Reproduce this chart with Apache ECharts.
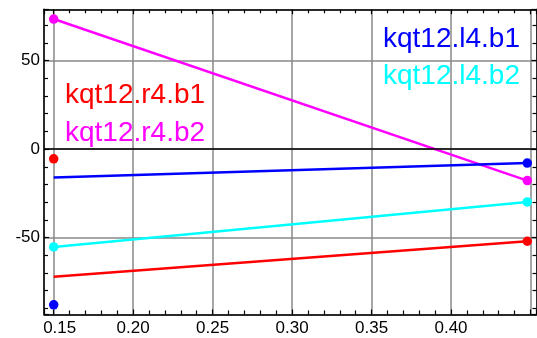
<!DOCTYPE html>
<html>
<head>
<meta charset="utf-8">
<script src="https://cdn.jsdelivr.net/npm/echarts@6/dist/echarts.min.js"></script>
<style>
html,body{margin:0;padding:0;background:#fff;}
#chart{width:537px;height:338px;}
</style>
</head>
<body>
<div id="chart"></div>
<script>
// x positions of the two measurements
var xValues = [0.15, 0.448];
// measured points
var pointsR4B1 = [-5.5, -52.1];
var pointsR4B2 = [73.5, -17.8];
var pointsL4B1 = [-88, -7.9];
var pointsL4B2 = [-55.3, -29.9];
// fitted lines
var fitR4B1 = [-72.2, -52.1];
var fitR4B2 = [73.5, -17.8];
var fitL4B1 = [-16, -7.9];
var fitL4B2 = [-55.3, -29.9];

var names = ['kqt12.r4.b1', 'kqt12.r4.b2', 'kqt12.l4.b1', 'kqt12.l4.b2'];
var colors = ['#ff0000', '#ff00ff', '#0000ff', '#00ffff'];
var points = [pointsR4B1, pointsR4B2, pointsL4B1, pointsL4B2];
var fits = [fitR4B1, fitR4B2, fitL4B1, fitL4B2];

function pairs(ys) { return xValues.map(function (x, i) { return [x, ys[i]]; }); }

var FONT = 'Liberation Sans';
var series = [];
names.forEach(function (n, k) {
  series.push({
    name: n, type: 'line', data: pairs(fits[k]), showSymbol: false,
    lineStyle: { color: colors[k], width: 2.5 }, itemStyle: { color: colors[k] },
    z: 3, silent: true,
    markLine: k === 0 ? {
      silent: true, symbol: 'none', label: { show: false },
      lineStyle: { color: '#000', width: 1.5, type: 'solid' },
      data: [{ yAxis: 0 }]
    } : undefined
  });
  series.push({
    name: n, type: 'scatter', data: pairs(points[k]), symbol: 'circle', symbolSize: 9.5,
    itemStyle: { color: colors[k], opacity: 1 }, z: 4
  });
});

var axisCommon = {
  axisLine: { show: true, onZero: false, lineStyle: { color: '#000', width: 1.5 } },
  axisTick: { show: true, inside: true, length: 5, lineStyle: { color: '#000', width: 1.2 } },
  minorTick: { show: true, splitNumber: 5, length: 4, lineStyle: { color: '#000', width: 1.2 } }
};

var xMin = 0.1439, xMax = 0.4538, yMin = -93.5, yMax = 79;

var option = {
  animation: false,
  backgroundColor: '#fff',
  grid: { left: 44, right: 0.5, top: 9.3, bottom: 23.5, containLabel: false, outerBoundsMode: 'none' },
  xAxis: [
    Object.assign({
      type: 'value', position: 'bottom', min: xMin, max: xMax, splitNumber: 6,
      axisLabel: { show: true, color: '#000', fontSize: 17, fontFamily: FONT, margin: 5,
        showMinLabel: false, showMaxLabel: false, hideOverlap: false,
        formatter: function (v) {
          if (v > 0.445) return '';
          if (v < 0.155) return '{f|' + v.toFixed(2) + '}';
          return v.toFixed(2);
        },
        rich: { f: { fontSize: 17, fontFamily: FONT, color: '#000', padding: [0, 0, 0, 12] } }
      },
      splitLine: { show: true, lineStyle: { color: '#888', width: 1.5 } }
    }, axisCommon),
    Object.assign({
      type: 'value', position: 'top', min: xMin, max: xMax, splitNumber: 6,
      axisLabel: { show: false }, splitLine: { show: false }
    }, axisCommon)
  ],
  yAxis: [
    Object.assign({
      type: 'value', position: 'left', min: yMin, max: yMax, splitNumber: 3,
      axisLabel: { show: true, color: '#000', fontSize: 17, fontFamily: FONT, margin: 4,
        showMinLabel: false, showMaxLabel: false },
      splitLine: { show: true, lineStyle: { color: '#888', width: 1.5 } }
    }, axisCommon),
    Object.assign({
      type: 'value', position: 'right', min: yMin, max: yMax, splitNumber: 3,
      axisLabel: { show: false }, splitLine: { show: false }
    }, axisCommon)
  ],
  legend: [
    {
      data: [
        { name: names[0], textStyle: { color: colors[0] } },
        { name: names[1], textStyle: { color: colors[1] } }
      ],
      orient: 'vertical', left: 60, top: 81, icon: 'none', itemWidth: 0, itemHeight: 10, itemGap: 10,
      padding: 0, selectedMode: false,
      textStyle: { fontSize: 28, fontFamily: FONT, padding: 0 }
    },
    {
      data: [
        { name: names[2], textStyle: { color: colors[2] } },
        { name: names[3], textStyle: { color: colors[3] } }
      ],
      orient: 'vertical', left: 378, top: 25.5, icon: 'none', itemWidth: 0, itemHeight: 10, itemGap: 8.5,
      padding: 0, selectedMode: false,
      textStyle: { fontSize: 28, fontFamily: FONT, padding: 0 }
    }
  ],
  series: series
};

var chart = echarts.init(document.getElementById('chart'), null, { renderer: 'canvas' });
chart.setOption(option);
</script>
</body>
</html>
